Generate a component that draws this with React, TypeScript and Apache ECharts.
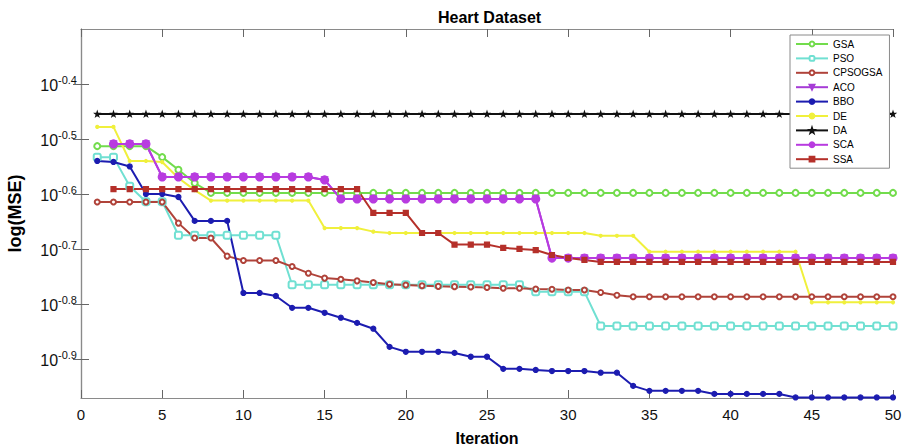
import React, { useEffect, useRef } from "react";
import * as echarts from "echarts";

const iterations = [
  1, 2, 3, 4, 5, 6, 7, 8, 9, 10, 11, 12, 13, 14, 15, 16, 17, 18, 19, 20, 21, 22, 23, 24, 25,
  26, 27, 28, 29, 30, 31, 32, 33, 34, 35, 36, 37, 38, 39, 40, 41, 42, 43, 44, 45, 46, 47, 48, 49, 50,
];

const GSA = [
  -0.513, -0.513, -0.513, -0.513, -0.533, -0.556, -0.58, -0.598, -0.598, -0.598,
  -0.598, -0.598, -0.598, -0.598, -0.598, -0.598, -0.598, -0.598, -0.598, -0.598,
  -0.598, -0.598, -0.598, -0.598, -0.598, -0.598, -0.598, -0.598, -0.598, -0.598,
  -0.598, -0.598, -0.598, -0.598, -0.598, -0.598, -0.598, -0.598, -0.598, -0.598,
  -0.598, -0.598, -0.598, -0.598, -0.598, -0.598, -0.598, -0.598, -0.598, -0.598,
];
const PSO = [
  -0.533, -0.533, -0.586, -0.614, -0.614, -0.675, -0.675, -0.675, -0.675, -0.675,
  -0.675, -0.675, -0.765, -0.765, -0.765, -0.765, -0.765, -0.765, -0.765, -0.765,
  -0.765, -0.765, -0.765, -0.765, -0.765, -0.765, -0.765, -0.778, -0.778, -0.778,
  -0.778, -0.84, -0.84, -0.84, -0.84, -0.84, -0.84, -0.84, -0.84, -0.84,
  -0.84, -0.84, -0.84, -0.84, -0.84, -0.84, -0.84, -0.84, -0.84, -0.84,
];
const CPSOGSA = [
  -0.6145, -0.6145, -0.6145, -0.6145, -0.6145, -0.653, -0.68, -0.68, -0.713, -0.721,
  -0.721, -0.721, -0.732, -0.744, -0.753, -0.755, -0.758, -0.761, -0.764, -0.7655,
  -0.767, -0.768, -0.7685, -0.769, -0.77, -0.7715, -0.7715, -0.7727, -0.7733, -0.7745,
  -0.7745, -0.779, -0.784, -0.787, -0.787, -0.787, -0.787, -0.787, -0.787, -0.787,
  -0.787, -0.787, -0.787, -0.787, -0.787, -0.787, -0.787, -0.787, -0.787, -0.787,
];
const ACO = [
  null, -0.509, -0.509, -0.509, -0.569, -0.569, -0.569, -0.569, -0.569, -0.569,
  -0.569, -0.569, -0.569, -0.569, -0.5745, -0.609, -0.609, -0.609, -0.609, -0.609,
  -0.609, -0.609, -0.609, -0.609, -0.609, -0.609, -0.609, -0.609, -0.7165, -0.7165,
  -0.7165, -0.7165, -0.7165, -0.7165, -0.7165, -0.7165, -0.7165, -0.7165, -0.7165, -0.7165,
  -0.7165, -0.7165, -0.7165, -0.7165, -0.7165, -0.7165, -0.7165, -0.7165, -0.7165, -0.7165,
];
const BBO = [
  -0.54, -0.5418, -0.55, -0.6, -0.6, -0.6055, -0.649, -0.649, -0.649, -0.78,
  -0.78, -0.7855, -0.807, -0.807, -0.816, -0.825, -0.8345, -0.845, -0.878, -0.887,
  -0.887, -0.887, -0.889, -0.896, -0.896, -0.918, -0.918, -0.92, -0.922, -0.922,
  -0.922, -0.925, -0.925, -0.949, -0.958, -0.958, -0.958, -0.958, -0.9636, -0.9636,
  -0.9636, -0.9636, -0.9636, -0.97, -0.97, -0.97, -0.97, -0.97, -0.97, -0.97,
];
const DE = [
  -0.478, -0.478, -0.54, -0.54, -0.542, -0.571, -0.593, -0.612, -0.612, -0.612,
  -0.612, -0.612, -0.612, -0.612, -0.662, -0.662, -0.662, -0.6685, -0.671, -0.671,
  -0.671, -0.671, -0.671, -0.671, -0.671, -0.671, -0.671, -0.671, -0.671, -0.671,
  -0.671, -0.676, -0.676, -0.676, -0.705, -0.705, -0.705, -0.705, -0.705, -0.705,
  -0.705, -0.705, -0.705, -0.705, -0.797, -0.797, -0.797, -0.797, -0.797, -0.797,
];
const DA = [
  -0.4545, -0.4545, -0.4545, -0.4545, -0.4545, -0.4545, -0.4545, -0.4545, -0.4545, -0.4545,
  -0.4545, -0.4545, -0.4545, -0.4545, -0.4545, -0.4545, -0.4545, -0.4545, -0.4545, -0.4545,
  -0.4545, -0.4545, -0.4545, -0.4545, -0.4545, -0.4545, -0.4545, -0.4545, -0.4545, -0.4545,
  -0.4545, -0.4545, -0.4545, -0.4545, -0.4545, -0.4545, -0.4545, -0.4545, -0.4545, -0.4545,
  -0.4545, -0.4545, -0.4545, -0.4545, -0.4545, -0.4545, -0.4545, -0.4545, -0.4545, -0.4545,
];
const SCA = [
  null, -0.509, -0.509, -0.509, -0.569, -0.569, -0.569, -0.569, -0.569, -0.569,
  -0.569, -0.569, -0.569, -0.569, -0.5745, -0.609, -0.609, -0.609, -0.609, -0.609,
  -0.609, -0.609, -0.609, -0.609, -0.609, -0.609, -0.609, -0.609, -0.7165, -0.7165,
  -0.7165, -0.7165, -0.7165, -0.7165, -0.7165, -0.7165, -0.7165, -0.7165, -0.7165, -0.7165,
  -0.7165, -0.7165, -0.7165, -0.7165, -0.7165, -0.7165, -0.7165, -0.7165, -0.7165, -0.7165,
];
const SSA = [
  null, -0.591, -0.591, -0.591, -0.591, -0.591, -0.591, -0.591, -0.591, -0.591,
  -0.591, -0.591, -0.591, -0.591, -0.591, -0.591, -0.591, -0.6345, -0.6345, -0.6345,
  -0.671, -0.671, -0.692, -0.692, -0.692, -0.698, -0.7, -0.702, -0.711, -0.7164,
  -0.72, -0.7236, -0.7236, -0.7236, -0.7236, -0.7236, -0.7236, -0.7236, -0.7236, -0.7236,
  -0.7236, -0.7236, -0.7236, -0.7236, -0.7236, -0.7236, -0.7236, -0.7236, -0.7236, -0.7236,
];

const yTickValues = [-0.9, -0.8, -0.7, -0.6, -0.5, -0.4];
const xTickInterval = 5;

const FONT = "'Liberation Sans', Arial, Helvetica, sans-serif";
const STAR =
  "path://M0,-10L2.35,-3.24L9.51,-3.09L3.8,1.24L5.88,8.09L0,4L-5.88,8.09L-3.8,1.24L-9.51,-3.09L-2.35,-3.24Z";

type SeriesDef = {
  name: string;
  values: (number | null)[];
  color: string;
  symbol: string;
  size: number;
};

const seriesDefs: SeriesDef[] = [
  { name: "GSA", values: GSA, color: "#72dc4c", symbol: "emptyCircle", size: 6 },
  { name: "PSO", values: PSO, color: "#70e0d2", symbol: "emptyRoundRect", size: 7 },
  { name: "CPSOGSA", values: CPSOGSA, color: "#b0433a", symbol: "emptyCircle", size: 5 },
  { name: "ACO", values: ACO, color: "#a63cd6", symbol: "triangle", size: 6 },
  { name: "BBO", values: BBO, color: "#1c1cb0", symbol: "circle", size: 5 },
  { name: "DE", values: DE, color: "#f0f03c", symbol: "circle", size: 3 },
  { name: "DA", values: DA, color: "#111111", symbol: STAR, size: 5 },
  { name: "SCA", values: SCA, color: "#b83be0", symbol: "circle", size: 8 },
  { name: "SSA", values: SSA, color: "#b5302a", symbol: "rect", size: 5 },
];

export default function App() {
  const ref = useRef<HTMLDivElement>(null);

  useEffect(() => {
    document.body.style.margin = "0";
    if (!ref.current) return;
    const chart = echarts.init(ref.current, null, { renderer: "svg" });

    const series = seriesDefs.map((d) => ({
      name: d.name,
      type: "line",
      data: iterations
        .map((it, i) => [it, d.values[i]])
        .filter((p) => p[1] !== null),
      symbol: d.symbol,
      symbolSize: d.size,
      symbolRotate: d.name === "ACO" ? 180 : 0,
      showAllSymbol: true,
      lineStyle: { color: d.color, width: 2 },
      itemStyle: { color: d.color, borderColor: d.color, borderWidth: 1.2 },
      emphasis: { disabled: true },
    }));

    const axisLineStyle = { show: true, lineStyle: { color: "#8a8a8a", width: 1.2 } };
    const tickStyle = { color: "#666", width: 1 };

    chart.setOption({
      animation: false,
      backgroundColor: "#fff",
      title: {
        text: "Heart Dataset",
        left: 433,
        top: 4,
        textStyle: { fontFamily: FONT, fontWeight: "bold", fontSize: 16, color: "#000" },
      },
      legend: {
        orient: "vertical",
        left: 790,
        top: 35,
        padding: [3, 7, 3, 5],
        itemWidth: 32,
        itemHeight: 6,
        itemGap: 2.4,
        backgroundColor: "#fff",
        borderColor: "#8a8a8a",
        borderWidth: 1,
        textStyle: { fontFamily: FONT, fontSize: 10, color: "#000", lineHeight: 12 },
        data: seriesDefs.map((d) => d.name),
      },
      grid: { left: 81, right: 14, top: 29, bottom: 49, outerBoundsMode: "none" },
      xAxis: [
        {
          type: "value",
          min: 0,
          max: 50,
          interval: xTickInterval,
          position: "bottom",
          name: "Iteration",
          nameLocation: "middle",
          nameGap: 32,
          nameTextStyle: { fontFamily: FONT, fontWeight: "bold", fontSize: 16, color: "#000" },
          axisLine: axisLineStyle,
          axisTick: { show: true, inside: true, length: 8, lineStyle: tickStyle },
          axisLabel: { fontFamily: FONT, fontSize: 15, color: "#111", margin: 9 },
          splitLine: { show: false },
        },
        {
          type: "value",
          min: 0,
          max: 50,
          interval: xTickInterval,
          position: "top",
          axisLine: axisLineStyle,
          axisTick: { show: true, inside: true, length: 8, lineStyle: tickStyle },
          axisLabel: { show: false },
          splitLine: { show: false },
        },
      ],
      yAxis: [
        {
          type: "value",
          min: -0.971,
          max: -0.3,
          position: "left",
          name: "log(MSE)",
          nameLocation: "middle",
          nameGap: 57,
          nameRotate: 90,
          nameTextStyle: { fontFamily: FONT, fontWeight: "bold", fontSize: 18, color: "#000" },
          axisLine: axisLineStyle,
          axisTick: {
            show: true,
            inside: true,
            length: 8,
            lineStyle: tickStyle,
            customValues: yTickValues,
          },
          axisLabel: {
            customValues: yTickValues,
            margin: 4,
            padding: [4, 0, 0, 0],
            formatter: (v: number) => `{b|10}{s|${v.toFixed(1)}}`,
            rich: {
              b: {
                fontFamily: FONT,
                fontSize: 16,
                lineHeight: 16,
                color: "#111",
                verticalAlign: "bottom",
              },
              s: {
                fontFamily: FONT,
                fontSize: 11,
                lineHeight: 11,
                color: "#111",
                verticalAlign: "bottom",
                padding: [0, 0, 8, 0],
              },
            },
          },
          splitLine: { show: false },
        },
        {
          type: "value",
          min: -0.971,
          max: -0.3,
          position: "right",
          axisLine: axisLineStyle,
          axisTick: {
            show: true,
            inside: true,
            length: 8,
            lineStyle: tickStyle,
            customValues: yTickValues,
          },
          axisLabel: { show: false },
          splitLine: { show: false },
        },
      ],
      series,
    });

    return () => {
      chart.dispose();
    };
  }, []);

  return (
    <div
      ref={ref}
      style={{ position: "absolute", left: 0, top: 0, width: 907, height: 447 }}
    />
  );
}
